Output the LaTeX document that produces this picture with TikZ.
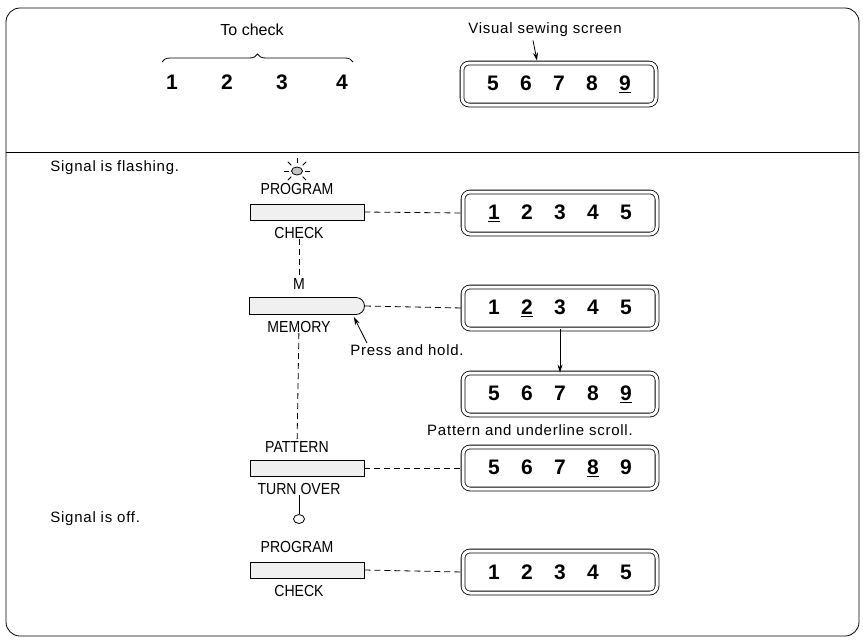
\documentclass[tikz,border=0pt]{standalone}
\usepackage{fontspec}
\setmainfont{Liberation Sans}
\newfontfamily\narrowsans[FakeStretch=0.88]{Liberation Sans}
\usetikzlibrary{shapes.geometric, shapes.misc, arrows.meta, positioning, calc, decorations.pathreplacing}

\newcommand{\dg}[1]{\makebox[33pt]{#1}}

\begin{document}
\begin{tikzpicture}[
        x=1pt, y=-1pt, line width=0.8pt,
        note/.style={font=\fontsize{15}{18}\selectfont\addfontfeature{LetterSpace=5}, inner sep=0pt},
        keylabel/.style={font=\narrowsans\fontsize{16}{18}\selectfont, inner sep=0pt},
        digit/.style={font=\bfseries\fontsize{21}{24}\selectfont, inner sep=0pt},
        button/.style={rectangle, draw, fill=gray!12, minimum width=114pt, minimum height=16pt, inner sep=0pt},
        screen/.style={rectangle, draw, double, double distance=3pt, rounded corners=7pt,
                       minimum width=194pt, minimum height=42pt, inner sep=0pt,
                       font=\bfseries\fontsize{21}{24}\selectfont},
        link/.style={dash pattern=on 6pt off 4pt},
        arrow/.style={-{Stealth[length=8pt, width=5pt]}}
    ]
        \useasboundingbox (0,0) rectangle (863,641);

        % frame and divider
        \draw[rounded corners=14pt] (6,8) rectangle (859,636);
        \draw (6,152) -- (859,152);

        % To check
        \node[note, font=\fontsize{16}{18}\selectfont] (tocheck) at (252,30) {To check};
        \draw[decorate, decoration={brace, amplitude=8pt}] (162,62) -- (353,62);
        \foreach \d/\x in {1/172, 2/227, 3/282, 4/342}
            \node[digit] (c\d) at (\x,82) {\d};

        % Visual sewing screen
        \node[note] (vss) at (545,30) {Visual sewing screen};
        \node[screen] (top) at (559,84) {\dg{5}\dg{6}\dg{7}\dg{8}\dg{\underline{9}}};
        \draw[arrow] ($(vss.south)+(-12,3)$) -- ($(top.north)+(-22,-2)$);

        % Signal is flashing
        \node[note, anchor=west] (flash) at (50,168) {Signal is flashing.};
        \node[ellipse, draw, fill=gray!45, minimum width=11pt, minimum height=8pt, inner sep=0pt] (lampon) at (297,171) {};
        \foreach \a in {0,45,90,135,180,-45,-135}
            \draw ($(lampon.center)+(\a:8pt)$) -- ($(lampon.center)+(\a:13pt)$);

        % PROGRAM / CHECK
        \node[keylabel] (prog1) at (297,189) {PROGRAM};
        \node[button] (b1) at (307,212) {};
        \node[keylabel] (check1) at (299,233) {CHECK};
        \node[screen] (s1) at (560,213) {\dg{\underline{1}}\dg{2}\dg{3}\dg{4}\dg{5}};
        \draw[link] (b1.east) -- (s1.west);

        % M / MEMORY
        \node[keylabel] (mkey) at (299,284) {M};
        \draw[link] (check1) -- (mkey);
        \node[rounded rectangle, rounded rectangle left arc=none, draw, fill=gray!12,
              minimum width=115pt, minimum height=17pt, inner sep=0pt] (mem) at (307,306) {};
        \node[keylabel] (memory) at (299,327) {MEMORY};
        \node[screen] (s2) at (560,308) {\dg{1}\dg{\underline{2}}\dg{3}\dg{4}\dg{5}};
        \draw[link] (mem.east) -- (s2.west);
        \node[note, anchor=west] (hold) at (350,350) {Press and hold.};
        \draw[arrow] ($(hold.north west)+(17,-1)$) -- ($(mem.east)+(-11,11)$);

        % scrolling
        \node[screen] (s3) at (560,394) {\dg{5}\dg{6}\dg{7}\dg{8}\dg{\underline{9}}};
        \draw[arrow] (s2.south) -- (s3.north);
        \node[note] (scroll) at (530,430) {Pattern and underline scroll.};

        % PATTERN / TURN OVER
        \node[keylabel] (pat) at (297,447) {PATTERN};
        \draw[link] (memory) -- (pat);
        \node[button] (b3) at (307,468) {};
        \node[keylabel] (turn) at (299,489) {TURN OVER};
        \node[screen] (s4) at (560,468) {\dg{5}\dg{6}\dg{7}\dg{\underline{8}}\dg{9}};
        \draw[link] (b3.east) -- (s4.west);

        % Signal is off
        \node[note, anchor=west] (off) at (50,519) {Signal is off.};
        \node[ellipse, draw, minimum width=11pt, minimum height=9pt, inner sep=0pt] (lampoff) at (299,519) {};
        \draw (turn) -- (lampoff);

        % PROGRAM / CHECK again
        \node[keylabel] (prog2) at (297,547) {PROGRAM};
        \node[button] (b5) at (307,570) {};
        \node[keylabel] (check2) at (299,591) {CHECK};
        \node[screen] (s5) at (560,572) {\dg{1}\dg{2}\dg{3}\dg{4}\dg{5}};
        \draw[link] (b5.east) -- (s5.west);
    \end{tikzpicture}
\end{document}
